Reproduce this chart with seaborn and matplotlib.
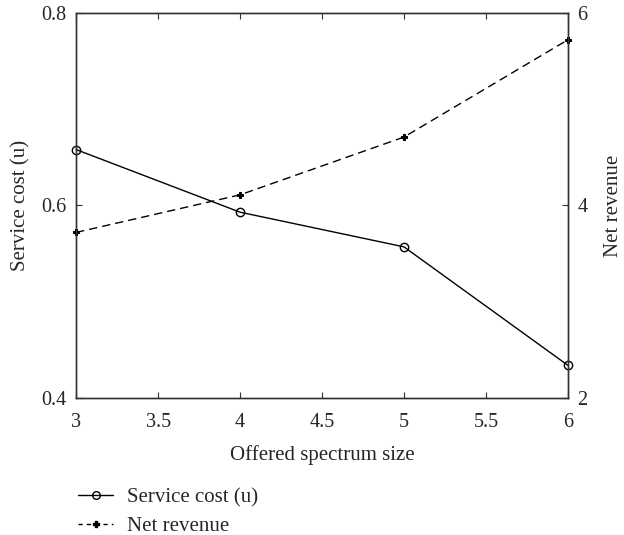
import matplotlib
matplotlib.use("Agg")
import matplotlib.pyplot as plt
import seaborn as sns
import pandas as pd
from matplotlib.lines import Line2D

# data
spectrum_size = [3, 4, 5, 6]
service_cost = [0.658, 0.593, 0.557, 0.434]
net_revenue = [3.72, 4.11, 4.71, 5.72]

df = pd.DataFrame({"size": spectrum_size, "cost": service_cost, "revenue": net_revenue})

sns.set_theme(style="ticks")
plt.rcParams["font.family"] = ["Liberation Serif", "DejaVu Serif"]
plt.rcParams["axes.labelsize"] = 15
plt.rcParams["xtick.labelsize"] = 14.5
plt.rcParams["ytick.labelsize"] = 14.5
plt.rcParams["legend.fontsize"] = 15
plt.rcParams["xtick.direction"] = "in"
plt.rcParams["ytick.direction"] = "in"

fig = plt.figure(figsize=(6.24, 5.35), dpi=100)
ax = fig.add_axes([0.122, 0.256, 0.788, 0.720])
ax2 = ax.twinx()

sns.lineplot(data=df, x="size", y="cost", ax=ax, color="black", lw=1.0,
             marker="o", markersize=6, markerfacecolor="none",
             markeredgecolor="black", markeredgewidth=1.0, clip_on=False)
sns.lineplot(data=df, x="size", y="revenue", ax=ax2, color="black", lw=1.0,
             linestyle=(0, (6, 3.6)), marker="P", markersize=4,
             markerfacecolor="black", markeredgecolor="black", clip_on=False)

ax.set_xlim(3, 6)
ax.set_ylim(0.4, 0.8)
ax2.set_ylim(2, 6)
ax.set_xticks([3, 3.5, 4, 4.5, 5, 5.5, 6])
ax.set_xticklabels(["3", "3.5", "4", "4.5", "5", "5.5", "6"])
ax.set_yticks([0.4, 0.6, 0.8])
ax2.set_yticks([2, 4, 6])

ax.set_xlabel("Offered spectrum size", labelpad=9)
ax.set_ylabel("Service cost (u)", labelpad=8)
ax2.set_ylabel("Net revenue", labelpad=12)

for a in (ax, ax2):
    for s in a.spines.values():
        s.set_visible(True)
        s.set_color("#333333")
        s.set_linewidth(1.0)
ax.tick_params(axis="x", top=True, length=4, width=0.8, color="#333333", pad=11)
ax.tick_params(axis="y", length=4, width=0.8, color="#333333", pad=7)
ax2.tick_params(axis="y", length=4, width=0.8, color="#333333", pad=7)

handles = [
    Line2D([], [], color="black", lw=1.0, marker="o", markersize=5.5,
           markerfacecolor="none", markeredgecolor="black"),
    Line2D([], [], color="black", lw=1.0, linestyle=(0, (3, 3)), marker="P",
           markersize=4, markerfacecolor="black"),
]
fig.legend(handles, ["Service cost (u)", "Net revenue"], loc="upper left",
           bbox_to_anchor=(0.125, 0.088), frameon=False, borderpad=0,
           borderaxespad=0, handlelength=1.7, handletextpad=0.67,
           labelspacing=0.45)

fig.savefig("out.png", dpi=100)
